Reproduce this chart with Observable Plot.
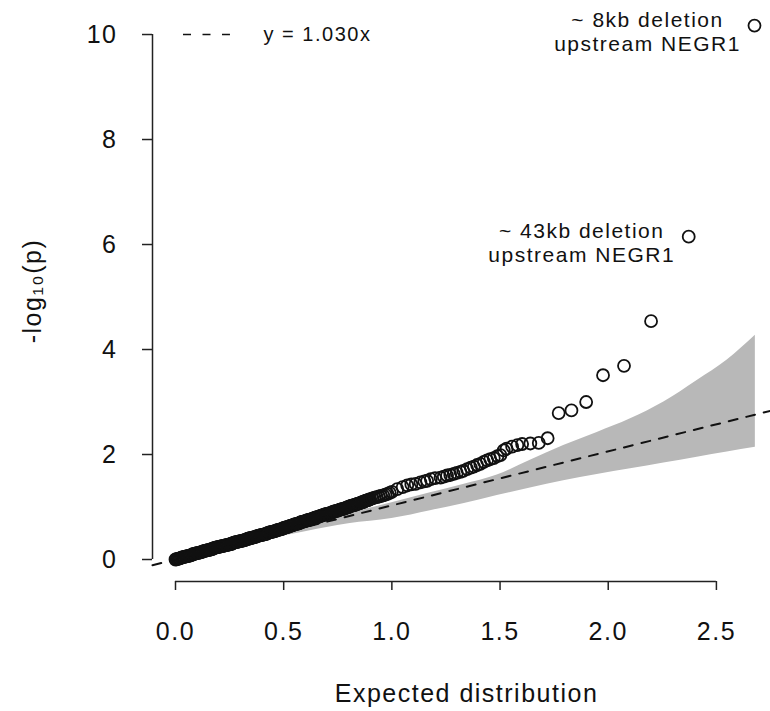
<!DOCTYPE html>
<html>
<head>
<meta charset="utf-8">
<script src="https://cdn.jsdelivr.net/npm/d3@7"></script>
<script src="https://cdn.jsdelivr.net/npm/@observablehq/plot@0.6"></script>
<style>
  html, body { margin: 0; padding: 0; background: #fff; }
  svg text { font-family: "Liberation Sans", Arial, Helvetica, sans-serif; letter-spacing: 1.5px; }
</style>
</head>
<body>
<div id="chart"></div>
<script>
const expected = [
  0.000,0.005,0.010,0.015,0.020,0.025,0.030,0.035,0.040,0.045,
  0.050,0.055,0.060,0.065,0.070,0.075,0.080,0.085,0.090,0.095,
  0.100,0.105,0.110,0.115,0.120,0.125,0.130,0.135,0.140,0.145,
  0.150,0.155,0.160,0.165,0.170,0.175,0.180,0.185,0.190,0.195,
  0.200,0.205,0.210,0.215,0.220,0.225,0.230,0.235,0.240,0.245,
  0.250,0.255,0.260,0.265,0.270,0.275,0.280,0.285,0.290,0.295,
  0.300,0.305,0.310,0.315,0.320,0.325,0.330,0.335,0.340,0.345,
  0.350,0.355,0.360,0.365,0.370,0.375,0.380,0.385,0.390,0.395,
  0.400,0.405,0.410,0.415,0.420,0.425,0.430,0.435,0.440,0.445,
  0.450,0.455,0.460,0.465,0.470,0.475,0.480,0.485,0.490,0.495,
  0.500,0.505,0.510,0.515,0.520,0.525,0.530,0.535,0.540,0.545,
  0.550,0.555,0.560,0.565,0.570,0.575,0.580,0.585,0.590,0.595,
  0.600,0.605,0.610,0.615,0.620,0.625,0.630,0.635,0.640,0.645,
  0.650,0.655,0.660,0.665,0.670,0.675,0.680,0.685,0.690,0.695,
  0.700,0.705,0.710,0.715,0.720,0.725,0.730,0.735,0.740,0.745,
  0.750,0.755,0.760,0.765,0.770,0.775,0.780,0.785,0.790,0.795,
  0.800,0.805,0.810,0.815,0.820,0.825,0.830,0.835,0.840,0.845,
  0.850,0.855,0.860,0.865,0.870,0.875,0.880,0.885,0.890,0.895,
  0.900,0.910,0.920,0.930,0.940,0.950,0.960,0.970,0.980,0.990,
  1.000,1.025,1.050,1.071,1.090,1.110,1.132,1.150,1.163,1.180,
  1.200,1.225,1.240,1.255,1.270,1.286,1.300,1.317,1.330,1.348,
  1.365,1.379,1.394,1.409,1.425,1.440,1.455,1.471,1.488,1.502,
  1.517,1.530,1.556,1.580,1.602,1.640,1.679,1.720,1.771,1.830,
  1.898,1.976,2.073,2.198,2.372,2.676
];
const observed = [
  0.000,0.005,0.010,0.015,0.020,0.030,0.040,0.045,0.050,0.055,
  0.060,0.065,0.070,0.075,0.080,0.090,0.100,0.105,0.110,0.115,
  0.120,0.125,0.130,0.135,0.140,0.150,0.160,0.165,0.170,0.175,
  0.180,0.185,0.190,0.195,0.200,0.210,0.220,0.225,0.230,0.235,
  0.240,0.245,0.250,0.255,0.260,0.265,0.270,0.275,0.280,0.285,
  0.290,0.295,0.300,0.310,0.320,0.325,0.330,0.335,0.340,0.345,
  0.350,0.355,0.360,0.365,0.370,0.380,0.390,0.395,0.400,0.405,
  0.410,0.415,0.420,0.425,0.430,0.440,0.450,0.455,0.460,0.465,
  0.470,0.475,0.480,0.485,0.490,0.500,0.510,0.515,0.520,0.525,
  0.530,0.535,0.540,0.550,0.560,0.565,0.570,0.575,0.580,0.590,
  0.600,0.605,0.610,0.615,0.620,0.630,0.640,0.645,0.650,0.660,
  0.670,0.675,0.680,0.685,0.690,0.700,0.710,0.715,0.720,0.725,
  0.730,0.740,0.750,0.755,0.760,0.765,0.770,0.780,0.790,0.795,
  0.800,0.805,0.810,0.820,0.830,0.835,0.840,0.850,0.860,0.865,
  0.870,0.875,0.880,0.885,0.890,0.900,0.910,0.915,0.920,0.925,
  0.930,0.940,0.950,0.955,0.960,0.965,0.970,0.980,0.990,0.995,
  1.000,1.010,1.020,1.025,1.030,1.035,1.040,1.050,1.060,1.065,
  1.070,1.080,1.090,1.095,1.100,1.110,1.120,1.125,1.130,1.140,
  1.150,1.165,1.180,1.190,1.200,1.210,1.220,1.235,1.250,1.270,
  1.290,1.340,1.380,1.410,1.430,1.440,1.470,1.490,1.500,1.530,
  1.550,1.560,1.580,1.600,1.610,1.630,1.650,1.670,1.690,1.720,
  1.750,1.770,1.800,1.820,1.860,1.890,1.910,1.930,1.970,1.990,
  2.080,2.110,2.150,2.180,2.200,2.210,2.220,2.310,2.790,2.840,
  3.000,3.510,3.690,4.540,6.150,10.170
];

// 95% confidence band
const bandX     = [0, 0.2, 0.4, 0.6, 0.8, 1.0, 1.178, 1.33, 1.487, 1.640, 1.794, 1.949, 2.103, 2.257, 2.411, 2.55, 2.68];
const bandLower = [0, 0.17, 0.36, 0.53, 0.68, 0.78, 0.93, 1.06, 1.22, 1.36, 1.50, 1.62, 1.73, 1.84, 1.95, 2.05, 2.14];
const bandUpper = [0, 0.23, 0.45, 0.67, 0.88, 1.08, 1.27, 1.43, 1.61, 1.89, 2.17, 2.42, 2.68, 3.00, 3.41, 3.80, 4.27];

const slope = 1.030;
const xTicks = [0, 0.5, 1.0, 1.5, 2.0, 2.5];
const yTicks = [0, 2, 4, 6, 8, 10];

const annotations = [
  {x: 2.676, y: 10.17, label: "~ 8kb deletion\nupstream NEGR1"},
  {x: 2.372, y: 6.15,  label: "~ 43kb deletion\nupstream NEGR1"}
];
const legendLabel = "y = 1.030x";
const xTitle = "Expected distribution";
const yTitle = "-log\u2081\u2080(p)";

// ---- build ----
const xDomain = [-0.1063, 2.750];
const yDomain = [-0.419, 10.648];
const points = expected.map((x, i) => ({x, y: observed[i]}));
const band = bandX.map((x, i) => ({x, lo: bandLower[i], hi: bandUpper[i]}));
const fitLine = xDomain.map(x => ({x, y: slope * x}));
const ink = "#111";

const chart = Plot.plot({
  width: 770,
  height: 711,
  marginLeft: 152,
  marginRight: 0,
  marginTop: 0,
  marginBottom: 130,
  style: {background: "#fff", color: ink, overflow: "visible"},
  x: {domain: xDomain, label: null},
  y: {domain: yDomain, label: null},
  marks: [
    Plot.areaY(band, {x: "x", y1: "lo", y2: "hi", fill: "#b8b8b8", curve: "monotone-x"}),
    Plot.line(fitLine, {x: "x", y: "y", stroke: ink, strokeWidth: 2, strokeDasharray: "9,9"}),
    Plot.dot(points, {x: "x", y: "y", r: 6, stroke: ink, strokeWidth: 1.8, fill: "none"}),
    // axes (R style: line spanning first to last tick)
    Plot.ruleY([yDomain[0]], {x1: xTicks[0], x2: xTicks[xTicks.length - 1], stroke: "#222", strokeWidth: 1.5}),
    Plot.ruleX([xDomain[0]], {y1: yTicks[0], y2: yTicks[yTicks.length - 1], stroke: "#222", strokeWidth: 1.5}),
    Plot.axisX({ticks: xTicks, tickSize: 9, tickPadding: 32, fontSize: 25, tickFormat: d => d.toFixed(1), stroke: "#222", strokeWidth: 1.5, fill: ink, label: null}),
    Plot.axisY({ticks: yTicks, tickSize: 10, tickPadding: 25, fontSize: 25, tickFormat: d => String(d), stroke: "#222", strokeWidth: 1.5, fill: ink, label: null}),
    // axis titles
    Plot.text([xTitle], {frameAnchor: "bottom", textAnchor: "middle", lineAnchor: "middle", dy: 112, dx: 5, fontSize: 25, fill: ink}),
    Plot.text([yTitle], {frameAnchor: "left", textAnchor: "middle", lineAnchor: "middle", dx: -120, rotate: -90, fontSize: 25, fill: ink}),
    // legend
    Plot.ruleY([yTicks[yTicks.length - 1]], {x1: 0.037, x2: 0.254, stroke: ink, strokeWidth: 1.5, strokeDasharray: "8,11.5"}),
    Plot.text([legendLabel], {x: 0.407, y: yTicks[yTicks.length - 1], textAnchor: "start", fontSize: 20, fill: ink}),
    // annotations
    Plot.text(annotations, {x: "x", y: "y", text: "label", dx: -107, dy: 6, textAnchor: "middle", lineAnchor: "middle", lineHeight: 1.15, fontSize: 21, fill: ink})
  ]
});
document.getElementById("chart").appendChild(chart);
</script>
</body>
</html>
